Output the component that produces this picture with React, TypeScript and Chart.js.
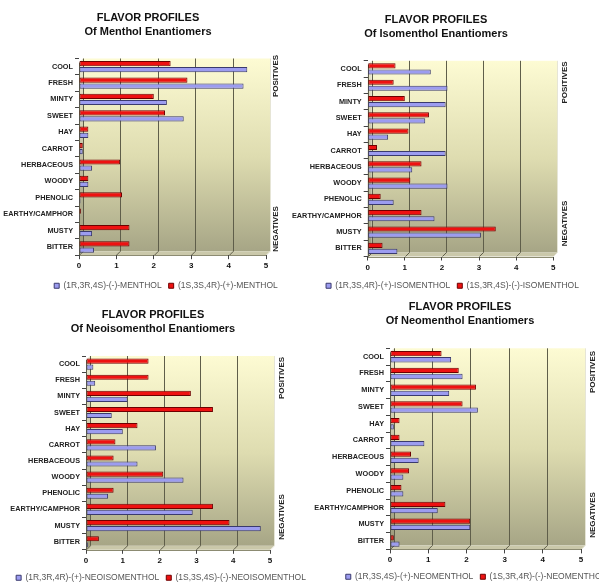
import React, { useEffect, useRef } from 'react';
import { Chart, registerables } from 'chart.js';

Chart.register(...registerables);

// ---------- DATA ----------
const categories = ['COOL', 'FRESH', 'MINTY', 'SWEET', 'HAY', 'CARROT', 'HERBACEOUS', 'WOODY', 'PHENOLIC', 'EARTHY/CAMPHOR', 'MUSTY', 'BITTER'];
const xTickValues = [0, 1, 2, 3, 4, 5];
const sideLabels = ['POSITIVES', 'NEGATIVES'];

const mentholTitle = ['FLAVOR PROFILES', 'Of Menthol Enantiomers'];
const mentholBlueLabel = '(1R,3R,4S)-(-)-MENTHOL';
const mentholRedLabel = '(1S,3S,4R)-(+)-MENTHOL';
const mentholBlue = [4.5, 4.4, 2.35, 2.8, 0.25, 0.1, 0.35, 0.25, 0.04, 0.03, 0.35, 0.4];
const mentholRed = [2.45, 2.9, 2.0, 2.3, 0.25, 0.1, 1.1, 0.25, 1.15, 0.05, 1.35, 1.35];

const isomentholTitle = ['FLAVOR PROFILES', 'Of Isomenthol Enantiomers'];
const isomentholBlueLabel = '(1R,3S,4R)-(+)-ISOMENTHOL';
const isomentholRedLabel = '(1S,3R,4S)-(-)-ISOMENTHOL';
const isomentholBlue = [1.7, 2.15, 2.1, 1.55, 0.55, 2.1, 1.2, 2.15, 0.7, 1.8, 3.05, 0.8];
const isomentholRed = [0.75, 0.7, 1.0, 1.65, 1.1, 0.25, 1.45, 1.15, 0.35, 1.45, 3.45, 0.4];

const neoisoTitle = ['FLAVOR PROFILES', 'Of Neoisomenthol Enantiomers'];
const neoisoBlueLabel = '(1R,3R,4R)-(+)-NEOISOMENTHOL';
const neoisoRedLabel = '(1S,3S,4S)-(-)-NEOISOMENTHOL';
const neoisoBlue = [0.2, 0.25, 1.13, 0.7, 1.0, 1.9, 1.4, 2.65, 0.6, 2.9, 4.75, 0.05];
const neoisoRed = [1.7, 1.7, 2.85, 3.45, 1.4, 0.8, 0.75, 2.1, 0.75, 3.45, 3.9, 0.35];

const neoTitle = ['FLAVOR PROFILES', 'Of Neomenthol Enantiomers'];
const neoBlueLabel = '(1R,3S,4S)-(+)-NEOMENTHOL';
const neoRedLabel = '(1S,3R,4R)-(-)-NEOMENTHOL';
const neoBlue = [1.6, 1.9, 1.55, 2.3, 0.1, 0.9, 0.75, 0.35, 0.35, 1.25, 2.1, 0.25];
const neoRed = [1.35, 1.8, 2.25, 1.9, 0.25, 0.25, 0.55, 0.5, 0.3, 1.45, 2.1, 0.1];

// ---------- STYLE ----------
const FONT = "'Liberation Sans', Arial, Helvetica, sans-serif";
const RED = '#ee1111';
const RED_EDGE = '#6e0000';
const BLUE = '#9c9cf0';
const BLUE_EDGE = '#3a3a6e';
const DEPTH = 4;
const LEGEND_FONT = 8.5;
const LEGEND_PAD = 7;
const LEGEND_H = LEGEND_FONT + LEGEND_PAD + 10;
const TITLE_LINE = 14.3;

type Spec = {
  title: string[];
  blueLabel: string; redLabel: string;
  blue: number[]; red: number[];
  x: number; y: number; w: number;
  areaL: number; areaR: number; areaT: number; areaB: number;
  legendY: number; titleCx: number; titleY: number;
  posY: number; negY: number; sideX: number;
};

const panels: Spec[] = [
  {
    title: mentholTitle, blueLabel: mentholBlueLabel, redLabel: mentholRedLabel, blue: mentholBlue, red: mentholRed,
    x: 0, y: 0, w: 332, areaL: 79, areaR: 266, areaT: 58.5, areaB: 255.2,
    legendY: 286, titleCx: 148, titleY: 18, posY: 76, negY: 229, sideX: 276,
  },
  {
    title: isomentholTitle, blueLabel: isomentholBlueLabel, redLabel: isomentholRedLabel, blue: isomentholBlue, red: isomentholRed,
    x: 280, y: 0, w: 345, areaL: 367.7, areaR: 553.3, areaT: 60.8, areaB: 256.5,
    legendY: 286, titleCx: 436, titleY: 20, posY: 82.5, negY: 223.5, sideX: 565,
  },
  {
    title: neoisoTitle, blueLabel: neoisoBlueLabel, redLabel: neoisoRedLabel, blue: neoisoBlue, red: neoisoRed,
    x: 0, y: 290, w: 322, areaL: 86, areaR: 270, areaT: 356, areaB: 549.8,
    legendY: 577.3, titleCx: 153, titleY: 315, posY: 378, negY: 517, sideX: 281.7,
  },
  {
    title: neoTitle, blueLabel: neoBlueLabel, redLabel: neoRedLabel, blue: neoBlue, red: neoRed,
    x: 300, y: 290, w: 352, areaL: 390, areaR: 581, areaT: 348.3, areaB: 549.4,
    legendY: 577, titleCx: 460, titleY: 306.7, posY: 372, negY: 515, sideX: 592.7,
  },
];

function canvasHeight(s: Spec) {
  return Math.round(s.legendY - (LEGEND_PAD + LEGEND_FONT / 2) + LEGEND_H - s.y);
}

function wallPlugin() {
  return {
    id: 'wall3d',
    beforeDraw(chart: any) {
      const { ctx, chartArea: a, scales } = chart;
      const xs = scales.x;
      const d = DEPTH;
      const x0 = a.left, x1 = a.right, t = a.top, b = a.bottom;
      ctx.save();
      // back wall
      const g = ctx.createLinearGradient(0, t, 0, b);
      g.addColorStop(0, '#fdfbd3');
      g.addColorStop(0.5, '#dedcb0');
      g.addColorStop(1, '#a4a384');
      ctx.fillStyle = g;
      ctx.fillRect(x0 + d, t, x1 - x0, b - d - t);
      // side wall
      const g2 = ctx.createLinearGradient(0, t, 0, b);
      g2.addColorStop(0, '#ecead0');
      g2.addColorStop(1, '#9a9978');
      ctx.fillStyle = g2;
      ctx.beginPath();
      ctx.moveTo(x0, t + d); ctx.lineTo(x0 + d, t); ctx.lineTo(x0 + d, b - d); ctx.lineTo(x0, b);
      ctx.closePath(); ctx.fill();
      // floor
      ctx.fillStyle = '#cac8aa';
      ctx.beginPath();
      ctx.moveTo(x0, b); ctx.lineTo(x0 + d, b - d); ctx.lineTo(x1 + d, b - d); ctx.lineTo(x1, b);
      ctx.closePath(); ctx.fill();
      // grid lines on wall + floor
      ctx.lineWidth = 1;
      xTickValues.forEach((v, i) => {
        const px = Math.round(xs.getPixelForValue(v)) + 0.5;
        ctx.strokeStyle = i === xTickValues.length - 1 ? '#e6e5d6' : '#5f5e4a';
        ctx.beginPath();
        ctx.moveTo(px + d, t); ctx.lineTo(px + d, b - d); ctx.lineTo(px, b);
        ctx.stroke();
      });
      // front-left edge
      ctx.strokeStyle = '#5f5e4a';
      const lx = Math.round(x0) + 0.5;
      ctx.beginPath();
      ctx.moveTo(lx, t + d); ctx.lineTo(lx, b);
      ctx.stroke();
      // floor front edge
      ctx.strokeStyle = '#8c8b72';
      ctx.beginPath();
      ctx.moveTo(x0, Math.round(b) + 0.5); ctx.lineTo(x1, Math.round(b) + 0.5);
      ctx.stroke();
      ctx.restore();
    },
  };
}

function textPlugin(s: Spec) {
  return {
    id: 'panelText',
    afterDraw(chart: any) {
      const { ctx } = chart;
      ctx.save();
      ctx.fillStyle = '#111';
      ctx.textAlign = 'center';
      ctx.textBaseline = 'middle';
      ctx.font = `bold 11px ${FONT}`;
      s.title.forEach((line, i) => {
        ctx.fillText(line, s.titleCx - s.x, s.titleY - s.y + i * TITLE_LINE);
      });
      ctx.font = `bold 8px ${FONT}`;
      ctx.fillStyle = '#222';
      const ys = [s.posY, s.negY];
      sideLabels.forEach((lab, i) => {
        ctx.save();
        ctx.translate(s.sideX - s.x, ys[i] - s.y);
        ctx.rotate(-Math.PI / 2);
        ctx.fillText(lab, 0, 0);
        ctx.restore();
      });
      ctx.restore();
    },
  };
}

function makeConfig(s: Spec): any {
  const h = canvasHeight(s);
  const yW = s.areaL - s.x;
  const R = s.x + s.w - s.areaR;
  const pT = s.areaT - s.y;
  const xH = h - LEGEND_H - (s.areaB - s.y);
  return {
    type: 'bar',
    data: {
      labels: categories,
      datasets: [
        { label: s.redLabel, data: s.red, backgroundColor: RED, borderColor: RED_EDGE, borderWidth: 1, borderSkipped: false },
        { label: s.blueLabel, data: s.blue, backgroundColor: BLUE, borderColor: BLUE_EDGE, borderWidth: 1, borderSkipped: false },
      ],
    },
    options: {
      indexAxis: 'y',
      responsive: false,
      animation: false,
      layout: { padding: { left: 0, right: 0, top: pT, bottom: 0 } },
      datasets: { bar: { categoryPercentage: 0.74, barPercentage: 0.86 } },
      scales: {
        x: {
          type: 'linear', min: 0, max: 5,
          ticks: { stepSize: 1, color: '#111', padding: 2, font: { family: FONT, size: 8, weight: 'bold' } },
          grid: { drawOnChartArea: false, drawTicks: true, tickLength: 4, color: '#444' },
          border: { display: false },
          afterFit: (sc: any) => { sc.height = xH; },
        },
        y: {
          type: 'category',
          ticks: { color: '#222', padding: 2, autoSkip: false, font: { family: FONT, size: 7.3, weight: 'bold' } },
          grid: { drawOnChartArea: false, drawTicks: true, tickLength: 4, color: '#444', offset: true },
          border: { display: false },
          afterFit: (sc: any) => { sc.width = yW; },
        },
        side: {
          type: 'linear', position: 'right', display: true,
          grid: { display: false }, ticks: { display: false }, border: { display: false },
          afterFit: (sc: any) => { sc.width = R; },
        },
      },
      plugins: {
        title: { display: false },
        tooltip: { enabled: false },
        legend: {
          display: true, position: 'bottom', reverse: true, fullSize: true,
          labels: {
            boxWidth: 5, boxHeight: 5, padding: LEGEND_PAD, color: '#555',
            font: { family: FONT, size: LEGEND_FONT },
          },
        },
      },
    },
    plugins: [wallPlugin(), textPlugin(s)],
  };
}

function Panel({ spec }: { spec: Spec }) {
  const ref = useRef<HTMLCanvasElement>(null);
  const h = canvasHeight(spec);
  useEffect(() => {
    if (!ref.current) return;
    const chart = new Chart(ref.current, makeConfig(spec));
    return () => chart.destroy();
  }, [spec]);
  return (
    <canvas
      ref={ref}
      width={spec.w}
      height={h}
      style={{ position: 'absolute', left: spec.x, top: spec.y, width: spec.w, height: h }}
    />
  );
}

export default function App() {
  return (
    <div style={{ position: 'absolute', left: 0, top: 0, width: 599, height: 586, overflow: 'hidden', background: '#ffffff' }}>
      {panels.map((p, i) => (
        <Panel key={i} spec={p} />
      ))}
    </div>
  );
}
